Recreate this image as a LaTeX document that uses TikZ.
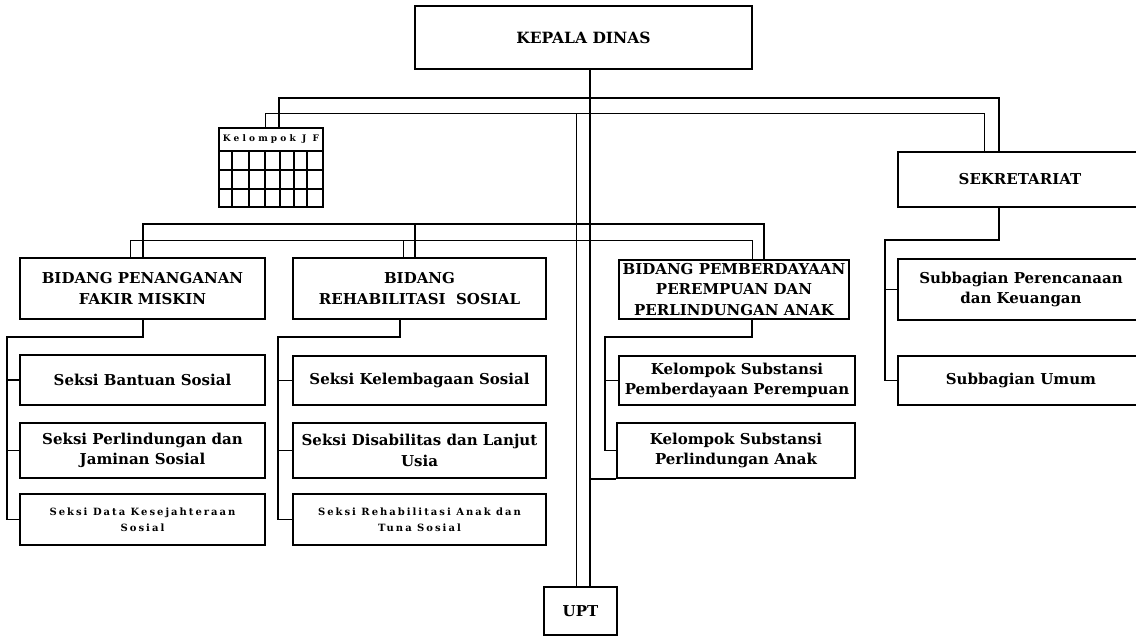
\documentclass[tikz,border=0pt]{standalone}
\usepackage{fontspec}
\setmainfont{DejaVu Serif}
\newfontfamily\spacedfont[LetterSpace=20]{DejaVu Serif}
\newfontfamily\jffont[LetterSpace=35]{DejaVu Serif}
\begin{document}
\begin{tikzpicture}[x=1pt,y=-1pt,
  box/.style={draw, line width=1.8pt, inner sep=0pt, align=center,
    font=\bfseries\fontsize{15}{20.5}\selectfont},
  smallbox/.style={box, font=\spacedfont\bfseries\fontsize{10}{16}\selectfont},
  thickl/.style={line width=2.2pt},
  thinl/.style={line width=1pt},
  conn/.style={line width=1.4pt},
  gridl/.style={line width=1.2pt}]
\useasboundingbox (0,0) rectangle (1136,637);
\clip (0,0) rectangle (1136,637);
\fill[white] (0,0) rectangle (1136,637);

% nodes
\node[box, minimum width=337pt, minimum height=63pt, font=\bfseries\fontsize{15.5}{20}\selectfont] (kd) at (583.5,37.5) {KEPALA DINAS};
\node[draw, line width=1.5pt, minimum width=104pt, minimum height=79pt, inner sep=0pt] (jf) at (271,167.5) {};
\node[font=\jffont\bfseries\fontsize{9}{10}\selectfont, inner sep=0pt] (jft) at (271,139.5) {Kelompok J F};
\node[box, minimum width=244pt, minimum height=55pt] (sek) at (1020,179.5) {SEKRETARIAT};
\node[box, minimum width=246pt, minimum height=61pt] (sp) at (1021,289.5) {Subbagian Perencanaan\\dan Keuangan};
\node[box, minimum width=246pt, minimum height=49pt] (su) at (1021,380.5) {Subbagian Umum};

\node[box, minimum width=245pt, minimum height=61pt] (b1) at (142.5,288.5) {BIDANG PENANGANAN\\FAKIR MISKIN};
\node[box, minimum width=253pt, minimum height=61pt] (b2) at (419.5,288.5) {BIDANG\\REHABILITASI\ \ SOSIAL};
\node[box, minimum width=230pt, minimum height=59pt] (b3) at (734,289.5) {BIDANG PEMBERDAYAAN\\PEREMPUAN DAN\\PERLINDUNGAN ANAK};

\node[box, minimum width=245pt, minimum height=50pt] (s11) at (142.5,380) {Seksi Bantuan Sosial};
\node[box, minimum width=245pt, minimum height=55pt] (s12) at (142.5,450.5) {Seksi Perlindungan dan\\Jaminan Sosial};
\node[smallbox, minimum width=245pt, minimum height=51pt] (s13) at (142.5,519.5) {Seksi Data Kesejahteraan\\Sosial};

\node[box, minimum width=253pt, minimum height=49pt] (s21) at (419.5,380.5) {Seksi Kelembagaan Sosial};
\node[box, minimum width=253pt, minimum height=55pt] (s22) at (419.5,450.5) {Seksi Disabilitas dan Lanjut\\Usia};
\node[smallbox, minimum width=253pt, minimum height=51pt] (s23) at (419.5,519.5) {Seksi Rehabilitasi Anak dan\\Tuna Sosial};

\node[box, minimum width=236pt, minimum height=49pt] (s31) at (737,380.5) {Kelompok Substansi\\Pemberdayaan Perempuan};
\node[box, minimum width=238pt, minimum height=55pt] (s32) at (736,450.5) {Kelompok Substansi\\Perlindungan Anak};

\node[box, minimum width=73pt, minimum height=48pt] (upt) at (580.5,611) {UPT};

% grid of Kelompok JF
\foreach \x in {232,249,265,280,294,307} \draw[gridl] (\x,151) -- (\x,207);
\foreach \y in {151,170,189} \draw[gridl] (219,\y) -- (323,\y);

% coordinates
\coordinate (trunk) at (590,98);
\coordinate (trunk2) at (576,113);
\coordinate (ta) at (279,98);
\coordinate (tb) at (999,98);
\coordinate (na) at (265,113);
\coordinate (nb) at (984,113);
\coordinate (ma) at (143,224);
\coordinate (mb) at (415,224);
\coordinate (mc) at (764,224);
\coordinate (la) at (130,240);
\coordinate (lb) at (403,240);
\coordinate (lc) at (752,240);
\coordinate (c1) at (143,337);
\coordinate (c1l) at (7,337);
\coordinate (c2) at (400,337);
\coordinate (c2l) at (278,337);
\coordinate (c3) at (752,337);
\coordinate (c3l) at (605,337);
\coordinate (cs) at (999,240);
\coordinate (csl) at (885,240);

% connectors
\draw[thickl] (kd.south -| trunk) -- (upt.north -| trunk);
\draw[thinl] (trunk2) -- (upt.north -| trunk2);
\draw[thickl] (jf.north -| ta) -- (ta) -- (tb) -- (sek.north -| tb);
\draw[thinl] (jf.north -| na) -- (na) -- (nb) -- (sek.north -| nb);
\draw[thickl] (b1.north -| ma) -- (ma) -- (mc) -- (b3.north -| mc);
\draw[thickl] (mb) -- (b2.north -| mb);
\draw[thinl] (b1.north -| la) -- (la) -- (lc) -- (b3.north -| lc);
\draw[thinl] (lb) -- (b2.north -| lb);

\draw[conn] (b1.south -| c1) -- (c1) -- (c1l) |- (s13.west);
\draw[conn] (c1l |- s11.west) -- (s11.west);
\draw[conn] (c1l |- s12.west) -- (s12.west);

\draw[conn] (b2.south -| c2) -- (c2) -- (c2l) |- (s23.west);
\draw[conn] (c2l |- s21.west) -- (s21.west);
\draw[conn] (c2l |- s22.west) -- (s22.west);

\draw[conn] (b3.south -| c3) -- (c3) -- (c3l) |- (s32.west);
\draw[conn] (c3l |- s31.west) -- (s31.west);
\draw[conn] (trunk |- s32.south west) -- (s32.south west);

\draw[conn] (sek.south -| cs) -- (cs) -- (csl) |- (su.west);
\draw[conn] (csl |- sp.west) -- (sp.west);
\end{tikzpicture}
\end{document}
